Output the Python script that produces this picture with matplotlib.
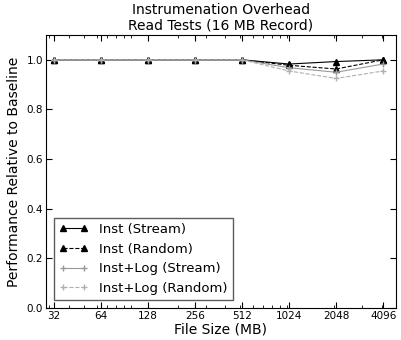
import matplotlib
matplotlib.use("Agg")
import matplotlib.pyplot as plt
from matplotlib.ticker import LogLocator, FixedLocator, FixedFormatter, NullFormatter

sizes = [32, 64, 128, 256, 512, 1024, 2048, 4096]
tick_labels = ["32", "64", "128", "256", "512", "1024", "2048", "4096"]
inst_stream = [1.0, 1.0, 1.0, 1.0, 1.0, 0.983, 0.993, 1.0]
inst_random = [1.0, 1.0, 1.0, 1.0, 1.0, 0.978, 0.963, 1.0]
log_stream = [1.0, 1.0, 1.0, 1.0, 1.0, 0.968, 0.950, 0.983]
log_random = [1.0, 1.0, 1.0, 1.0, 1.0, 0.955, 0.925, 0.955]

fig = plt.figure(figsize=(4.01, 3.40), dpi=100)
ax = fig.add_axes([46/401, 1 - 308/340, 350/401, 273/340])

ax.plot(sizes, inst_stream, color="black", linestyle="-", marker="^", markersize=4, lw=0.8, label="Inst (Stream)")
ax.plot(sizes, inst_random, color="black", linestyle="--", marker="^", markersize=4, lw=0.8, label="Inst (Random)")
ax.plot(sizes, log_stream, color="#999999", linestyle="-", marker="+", markersize=5, lw=0.8, label="Inst+Log (Stream)")
ax.plot(sizes, log_random, color="#b0b0b0", linestyle="--", marker="+", markersize=5, lw=0.8, label="Inst+Log (Random)")

ax.set_xscale("log", base=2)
ax.set_xlim(28.5, 4950)
ax.set_ylim(0.0, 1.1)
ax.xaxis.set_major_locator(FixedLocator(sizes))
ax.xaxis.set_major_formatter(FixedFormatter(tick_labels))
ax.xaxis.set_minor_locator(LogLocator(base=10, subs=range(1, 10)))
ax.xaxis.set_minor_formatter(NullFormatter())
ax.set_yticks([0.0, 0.2, 0.4, 0.6, 0.8, 1.0])
ax.tick_params(which="both", direction="in", top=True, right=True, labelsize=7.5, pad=2)
ax.tick_params(which="major", length=4)
ax.tick_params(which="minor", length=2)

ax.set_xlabel("File Size (MB)", fontsize=10, labelpad=1)
ax.set_ylabel("Performance Relative to Baseline", fontsize=10, labelpad=4)
ax.set_title("Instrumenation Overhead\nRead Tests (16 MB Record)", fontsize=10, linespacing=1.1, pad=4)

leg = ax.legend(loc="lower left", fontsize=9.5, frameon=True, fancybox=False, handlelength=2.2,
                numpoints=2, borderaxespad=0.6)
leg.get_frame().set_edgecolor("#333333")
leg.get_frame().set_linewidth(1.0)

fig.savefig("out.png", dpi=100)
